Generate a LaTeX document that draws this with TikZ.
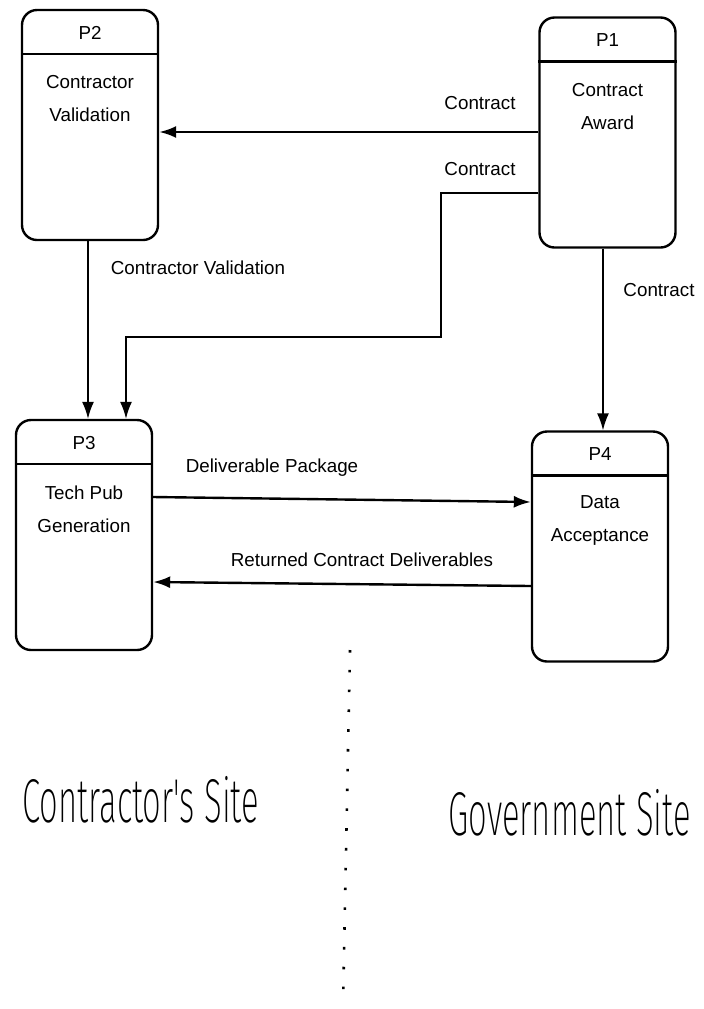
\documentclass[tikz,border=0pt]{standalone}
\usepackage{fontspec}
\setmainfont{Liberation Sans}
\newfontfamily\sitefont[FakeStretch=0.53]{Fira Sans ExtraLight}
\usetikzlibrary{arrows.meta,positioning}

\begin{document}
\begin{tikzpicture}[x=0.5pt,y=-0.5pt,
		font=\fontsize{9.4}{16.5}\selectfont,
		process/.style={draw,line width=1.2pt,rounded corners=7.5pt,minimum width=68pt,minimum height=115pt,inner sep=0pt},
		proctext/.style={align=center,inner sep=0pt},
		flow/.style={line width=0.8pt,-{Latex[length=8.5pt,width=6pt]}},
		heavyflow/.style={flow,line width=1.2pt},
		flowlabel/.style={inner sep=0pt},
		site/.style={font=\sitefont\fontsize{31}{31}\selectfont,inner sep=0pt,anchor=base west}]
			\useasboundingbox (0,0) rectangle (704,1009);
			\node[process] (p2) at (90,125) {};
			\node[process] (p1) at (607.5,132.5) {};
			\node[process] (p3) at (84,535) {};
			\node[process] (p4) at (600,546.5) {};
			\foreach \p in {p1,p2,p3,p4}
				\draw[line width=1.2pt] ([yshift=-22.5pt]\p.north west) -- ([yshift=-22.5pt]\p.north east);
			\node (p2id) at ([yshift=-12pt]p2.north) {P2};
			\node (p1id) at ([yshift=-12pt]p1.north) {P1};
			\node (p3id) at ([yshift=-12pt]p3.north) {P3};
			\node (p4id) at ([yshift=-12pt]p4.north) {P4};
			\node[proctext] (p2txt) at ([yshift=-45pt]p2.north) {Contractor\\Validation};
			\node[proctext] (p1txt) at ([yshift=-45pt]p1.north) {Contract\\Award};
			\node[proctext] (p3txt) at ([yshift=-45pt]p3.north) {Tech Pub\\Generation};
			\node[proctext] (p4txt) at ([yshift=-45pt]p4.north) {Data\\Acceptance};
			\draw[heavyflow] (p1.west |- 0,132) -- (p2.east |- 0,132);
			\draw[flow] (p1.west |- 0,193) -| (441,337) -| (p3.north -| 126,0);
			\draw[flow] (p1.south -| 603,0) -- (p4.north -| 603,0);
			\draw[flow] (p2.south -| 88,0) -- (p3.north -| 88,0);
			\draw[heavyflow] (p3.east |- 0,497) -- (p4.west |- 0,502);
			\draw[heavyflow] (p4.west |- 0,586) -- (p3.east |- 0,582);
			\node[flowlabel] (contract1) at (480,103) {Contract};
			\node[flowlabel] (contract2) at (480,169) {Contract};
			\node[flowlabel] (contract3) at (659,290) {Contract};
			\node[flowlabel] (validation) at (198,268) {Contractor Validation};
			\node[flowlabel] (package) at (272,468) {Deliverable Package};
			\node[flowlabel] (returned) at (362,560) {Returned Contract Deliverables};
			\draw[line width=1.3pt,dash pattern=on 1.3pt off 8.6pt] (350,650) -- (343,1005);
			\node[site] (csite) at (22,822) {Contractor's Site};
			\node[site] (gsite) at (448,835) {Government Site};
		\end{tikzpicture}
\end{document}
